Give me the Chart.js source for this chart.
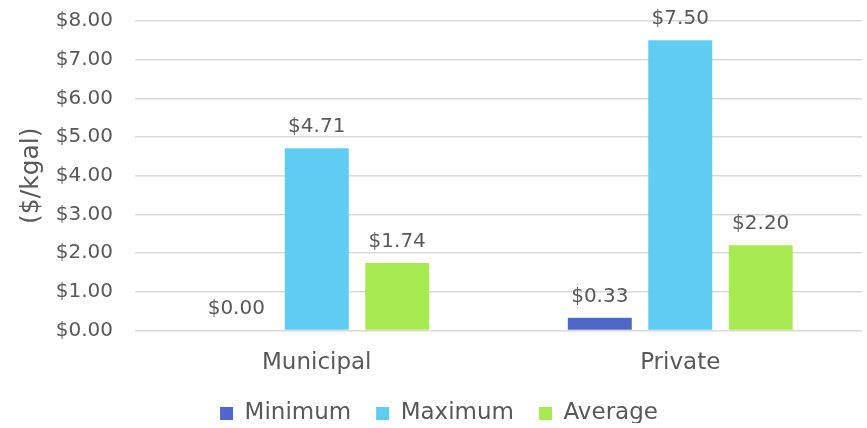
<!DOCTYPE html>
<html>
<head>
<meta charset="utf-8">
<script src="https://cdn.jsdelivr.net/npm/chart.js@4/dist/chart.umd.min.js"></script>
<style>
html,body{margin:0;padding:0;background:#fff;}
#wrap{width:867px;height:428px;}
</style>
</head>
<body>
<div id="wrap"><canvas id="c" width="867" height="428"></canvas></div>
<script>
const categories = ["Municipal", "Private"];
const minimumValues = [0.00, 0.33];
const maximumValues = [4.71, 7.50];
const averageValues = [1.74, 2.20];
const seriesNames = ["Minimum", "Maximum", "Average"];
const yTicks = [0, 1, 2, 3, 4, 5, 6, 7, 8];
const axisTitle = "($/kgal)";

const FONT = "'DejaVu Sans', sans-serif";
const TXT = "#595959";

const valueLabels = {
  id: "valueLabels",
  afterDatasetsDraw(chart) {
    const ctx = chart.ctx;
    ctx.save();
    ctx.font = "20px " + FONT;
    ctx.fillStyle = TXT;
    ctx.textAlign = "center";
    ctx.textBaseline = "alphabetic";
    chart.data.datasets.forEach((ds, i) => {
      const meta = chart.getDatasetMeta(i);
      meta.data.forEach((el, j) => {
        const v = ds.data[j];
        ctx.fillText("$" + v.toFixed(2), el.x, el.y - 16);
      });
    });
    ctx.restore();
  }
};

const LEGEND_SHIFT = 19;
const legendFit = {
  id: "legendFit",
  afterInit(chart) {
    const lg = chart.legend;
    if (!lg) return;
    const origFit = lg.fit.bind(lg);
    lg.fit = function () { origFit(); this.height = 46 - LEGEND_SHIFT; };
    const origDraw = lg.draw.bind(lg);
    lg.draw = function () {
      const t = this.top;
      this.top = t - LEGEND_SHIFT;
      origDraw();
      this.top = t;
    };
  }
};

new Chart(document.getElementById("c"), {
  type: "bar",
  data: {
    labels: categories,
    datasets: [
      { label: seriesNames[0], data: minimumValues, backgroundColor: "#4F68C8" },
      { label: seriesNames[1], data: maximumValues, backgroundColor: "#5FCCF2" },
      { label: seriesNames[2], data: averageValues, backgroundColor: "#A8EA52" }
    ]
  },
  options: {
    responsive: false,
    animation: false,
    devicePixelRatio: 1,
    layout: { padding: { left: 16, right: 5, top: 21, bottom: 5 } },
    datasets: { bar: { categoryPercentage: 0.664, barPercentage: 0.795 } },
    plugins: {
      legend: {
        position: "bottom",
        labels: {
          font: { family: FONT, size: 23 },
          color: TXT,
          boxWidth: 13,
          boxHeight: 13,
          padding: 25
        }
      },
      tooltip: { enabled: false }
    },
    scales: {
      x: {
        grid: { display: false, drawTicks: false },
        border: { display: false },
        ticks: { font: { family: FONT, size: 23 }, color: TXT, padding: 19 }
      },
      y: {
        min: 0,
        max: 8,
        afterBuildTicks: (s) => { s.ticks = yTicks.map(v => ({ value: v })); },
        afterFit: (s) => { s.width = 119; },
        grid: { color: "#D9D9D9", lineWidth: 1.5, drawTicks: true, tickLength: 22, tickColor: "rgba(0,0,0,0)" },
        border: { display: false },
        ticks: {
          font: { family: FONT, size: 20 },
          color: TXT,
          padding: 0,
          callback: (v) => "$" + Number(v).toFixed(2)
        },
        title: {
          display: true,
          text: axisTitle,
          font: { family: FONT, size: 25 },
          color: TXT,
          padding: { top: 0, bottom: 0 }
        }
      }
    }
  },
  plugins: [valueLabels, legendFit]
});
</script>
</body>
</html>
